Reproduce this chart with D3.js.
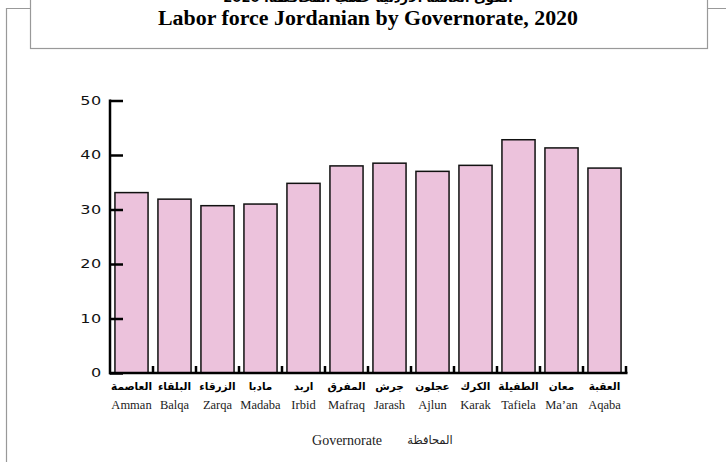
<!DOCTYPE html>
<html>
<head>
<meta charset="utf-8">
<script src="https://cdn.jsdelivr.net/npm/d3@7"></script>
<style>
  body { margin: 0; background: #fff; }
  svg { display: block; }
</style>
</head>
<body>
<div id="chart"></div>
<script>
// governorates, English and Arabic names
const governorates = ["Amman", "Balqa", "Zarqa", "Madaba", "Irbid", "Mafraq", "Jarash", "Ajlun", "Karak", "Tafiela", "Ma\u2019an", "Aqaba"];
const governoratesAr = ["العاصمة", "البلقاء", "الزرقاء", "مادبا", "اربد", "المفرق", "جرش", "عجلون", "الكرك", "الطفيلة", "معان", "العقبة"];
// labor force share (%)
const laborForce = [33.1, 31.9, 30.7, 31.0, 34.8, 38.0, 38.5, 37.0, 38.1, 42.8, 41.3, 37.6];
const yTicks = [0, 10, 20, 30, 40, 50];

const W = 726, H = 462;
const svg = d3.select("#chart").append("svg")
    .attr("width", W)
    .attr("height", H);

// outer frame + title box
svg.append("path")
    .attr("d", "M6.5,470 V8.5 H740")
    .attr("fill", "none")
    .attr("stroke", "#999")
    .attr("stroke-width", 1.2);

svg.append("rect")
    .attr("x", 30.5).attr("y", -10)
    .attr("width", 677).attr("height", 58.5)
    .attr("fill", "#fff")
    .attr("stroke", "#999")
    .attr("stroke-width", 1.2);

// arabic title line, mostly above the top edge like the reference
svg.append("text")
    .attr("x", 368).attr("y", 2)
    .attr("text-anchor", "middle")
    .attr("font-family", "'DejaVu Sans', sans-serif")
    .attr("font-weight", "bold")
    .attr("font-size", 13)
    .attr("direction", "rtl")
    .text("القوى العاملة الأردنية حسب المحافظة، 2020");

svg.append("text")
    .attr("x", 368).attr("y", 25)
    .attr("text-anchor", "middle")
    .attr("font-family", "'Liberation Serif', serif")
    .attr("font-weight", "bold")
    .attr("font-size", 20)
    .attr("textLength", 420)
    .attr("lengthAdjust", "spacingAndGlyphs")
    .text("Labor force Jordanian by Governorate, 2020");

// scales
const x = d3.scaleBand()
    .domain(governorates)
    .range([110, 626])
    .paddingInner(0.23)
    .paddingOuter(0.115);

const y = d3.scaleLinear()
    .domain([0, 50])
    .range([373, 100.5]);

// bars
svg.append("g")
    .selectAll("rect")
    .data(laborForce)
    .join("rect")
    .attr("x", (d, i) => x(governorates[i]))
    .attr("y", d => y(d))
    .attr("width", x.bandwidth())
    .attr("height", d => y(0) - y(d))
    .attr("fill", "#ecc2dc")
    .attr("stroke", "#111")
    .attr("stroke-width", 1.5);

// y axis
const sx = 1.4;
const yAxis = svg.append("g")
    .attr("transform", "translate(110,0)")
    .call(d3.axisRight(y).tickValues(yTicks).tickSize(13).tickFormat(d3.format("d")));
yAxis.select(".domain").remove();
yAxis.selectAll(".tick line").attr("stroke", "#000").attr("stroke-width", 2.5);
yAxis.selectAll(".tick text")
    .attr("x", -8 / sx)
    .attr("transform", `scale(${sx},1)`)
    .attr("text-anchor", "end")
    .attr("font-family", "'DejaVu Sans', sans-serif")
    .attr("font-size", 11.5)
    .attr("letter-spacing", 0.5)
    .attr("fill", "#111");
svg.append("line")
    .attr("x1", 110).attr("x2", 110)
    .attr("y1", y(50) - 1).attr("y2", y(0) + 1.2)
    .attr("stroke", "#000").attr("stroke-width", 2.5);

// x axis line with boundary ticks
const step = x.step();
svg.append("line")
    .attr("x1", 109).attr("x2", 627.5)
    .attr("y1", y(0)).attr("y2", y(0))
    .attr("stroke", "#000").attr("stroke-width", 2.5);
svg.append("g")
    .selectAll("line")
    .data(governorates)
    .join("line")
    .attr("x1", d => x(d) + x.bandwidth() + step * x.paddingInner() / 2)
    .attr("x2", d => x(d) + x.bandwidth() + step * x.paddingInner() / 2)
    .attr("y1", y(0))
    .attr("y2", y(0) - 7)
    .attr("stroke", "#000")
    .attr("stroke-width", 2.5);

// category labels
const labels = svg.append("g");
labels.selectAll("text.ar")
    .data(governoratesAr)
    .join("text")
    .attr("class", "ar")
    .attr("x", (d, i) => x(governorates[i]) + x.bandwidth() / 2)
    .attr("y", 390)
    .attr("text-anchor", "middle")
    .attr("font-family", "'DejaVu Sans', sans-serif")
    .attr("font-weight", "bold")
    .attr("font-size", 10.5)
    .text(d => d);
labels.selectAll("text.en")
    .data(governorates)
    .join("text")
    .attr("class", "en")
    .attr("x", d => x(d) + x.bandwidth() / 2)
    .attr("y", 409)
    .attr("text-anchor", "middle")
    .attr("font-family", "'Liberation Serif', serif")
    .attr("font-size", 12.5)
    .attr("fill", "#222")
    .text(d => d);

// axis title
svg.append("text")
    .attr("x", 347).attr("y", 445)
    .attr("text-anchor", "middle")
    .attr("font-family", "'Liberation Serif', serif")
    .attr("font-size", 14)
    .attr("fill", "#222")
    .text("Governorate");
svg.append("text")
    .attr("x", 430).attr("y", 444)
    .attr("text-anchor", "middle")
    .attr("font-family", "'DejaVu Sans', sans-serif")
    .attr("font-size", 11.5)
    .attr("fill", "#222")
    .text("المحافظة");
</script>
</body>
</html>
